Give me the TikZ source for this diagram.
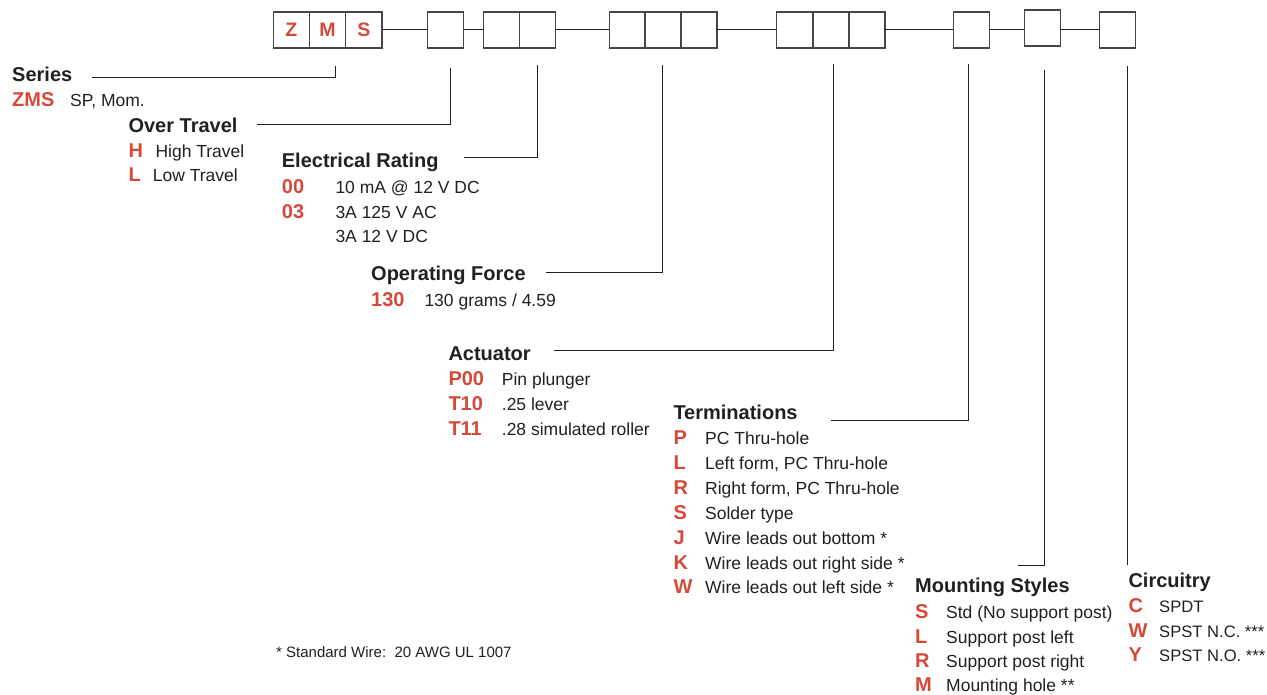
\documentclass[tikz,border=0pt]{standalone}
\usepackage{fontspec}
\setmainfont{Liberation Sans}
\definecolor{codered}{RGB}{214,72,58}
\definecolor{ink}{RGB}{35,31,32}
\definecolor{boxline}{RGB}{70,70,70}
\begin{document}
\begin{tikzpicture}[x=1pt,y=-1pt,
  cell/.style={draw=boxline,line width=1.4pt,minimum width=36.2pt,minimum height=35.8pt,inner sep=0,outer sep=0,anchor=north west,text=codered,font=\fontsize{19.5}{22}\selectfont\bfseries},
  lead/.style={draw=ink,line width=1pt},
  hd/.style={anchor=base west,inner sep=0,font=\fontsize{20}{24}\selectfont\bfseries,text=ink},
  cd/.style={anchor=base west,inner sep=0,font=\fontsize{20}{24}\selectfont\bfseries,text=codered},
  tx/.style={anchor=base west,inner sep=0,font=\fontsize{17.5}{21}\selectfont,text=ink},
  txs/.style={anchor=base west,inner sep=0,font=\fontsize{16.6}{20}\selectfont,text=ink},
  fn/.style={anchor=base west,inner sep=0,font=\fontsize{15}{18}\selectfont,text=ink},
]
\useasboundingbox (0,0) rectangle (1267,694);
% boxes
\node[cell] (z1) at (273.3,12) {Z};
\node[cell] (z2) at (309.5,12) {M};
\node[cell] (z3) at (345.7,12) {S};
\node[cell] (b2) at (427.5,12) {};
\node[cell] (e1) at (483.3,12) {};
\node[cell] (e2) at (519.5,12) {};
\node[cell] (f1) at (609.3,12) {};
\node[cell] (f2) at (645.1,12) {};
\node[cell] (f3) at (680.9,12) {};
\node[cell] (a1) at (776.7,12) {};
\node[cell] (a2) at (812.8,12) {};
\node[cell] (a3) at (848.9,12) {};
\node[cell] (t1) at (953.3,12) {};
\node[cell] (m1) at (1024.3,10) {};
\node[cell] (c1) at (1099.3,12) {};
% chain links
\draw[lead] (z3.east) -- (b2.west);
\draw[lead] (b2.east) -- (e1.west);
\draw[lead] (e2.east) -- (f1.west);
\draw[lead] (f3.east) -- (a1.west);
\draw[lead] (a3.east) -- (t1.west);
\draw[lead] (t1.east) -- (t1.east -| m1.west);
\draw[lead] (t1.east -| m1.east) -- (c1.west);
% leader coordinates
\coordinate (sA) at (92,77.7);    \coordinate (sB) at (335.5,65.5);
\coordinate (oA) at (256.7,124);  \coordinate (oB) at (450,68);
\coordinate (eA) at (464.3,157.7);\coordinate (eB) at (537.7,65);
\coordinate (pA) at (546,272.3);  \coordinate (pB) at (662.7,65);
\coordinate (aA) at (554,350.7);  \coordinate (aB) at (833.7,64);
\coordinate (tA) at (831,420);    \coordinate (tB) at (968,64);
\coordinate (mA) at (1017.6,565); \coordinate (mB) at (1044,70);
\coordinate (cA) at (1127,565);   \coordinate (cB) at (1127,66);
\draw[lead] (sA) -| (sB);
\draw[lead] (oA) -| (oB);
\draw[lead] (eA) -| (eB);
\draw[lead] (pA) -| (pB);
\draw[lead] (aA) -| (aB);
\draw[lead] (tA) -| (tB);
\draw[lead] (mA) -| (mB);
\draw[lead] (cA) -- (cB);
% Series
\node[hd] (hS) at (12,81.7) {Series};
\node[cd] (sc1) at (12,106.7) {ZMS};
\node[tx] (st1) at (70,106.7) {SP, Mom.};
% Over Travel
\node[hd] (hO) at (128.3,132.3) {Over Travel};
\node[cd] (oc1) at (128.3,157.3) {H};
\node[tx] (ot1) at (155.3,157.3) {High Travel};
\node[cd] (oc2) at (128.3,181.7) {L};
\node[tx] (ot2) at (152.7,181.7) {Low Travel};
% Electrical Rating
\node[hd] (hE) at (281.7,167.3) {Electrical Rating};
\node[cd] (ec1) at (281.7,193.3) {00};
\node[tx] (et1) at (335.3,193.3) {10 mA @ 12 V DC};
\node[cd] (ec2) at (281.7,218.3) {03};
\node[tx] (et2) at (335.3,218.3) {3A 125 V AC};
\node[tx] (et3) at (335.3,242.7) {3A 12 V DC};
% Operating Force
\node[hd] (hF) at (371,280.7) {Operating Force};
\node[cd] (fc1) at (371,306) {130};
\node[tx] (ft1) at (424.3,306) {130 grams / 4.59};
% Actuator
\node[hd] (hA) at (448.3,360) {Actuator};
\node[cd] (ac1) at (448.3,385) {P00};
\node[tx] (at1) at (501.7,385) {Pin plunger};
\node[cd] (ac2) at (448.3,410) {T10};
\node[tx] (at2) at (501.7,410) {.25 lever};
\node[cd] (ac3) at (448.3,435) {T11};
\node[tx] (at3) at (501.7,435) {.28 simulated roller};
% Terminations
\node[hd] (hT) at (673.3,419.3) {Terminations};
\node[cd] (tc1) at (673.3,444) {P};
\node[tx] (tt1) at (705,444) {PC Thru-hole};
\node[cd] (tc2) at (673.3,469.2) {L};
\node[tx] (tt2) at (705,469.2) {Left form, PC Thru-hole};
\node[cd] (tc3) at (673.3,494.2) {R};
\node[tx] (tt3) at (705,494.2) {Right form, PC Thru-hole};
\node[cd] (tc4) at (673.3,519) {S};
\node[tx] (tt4) at (705,519) {Solder type};
\node[cd] (tc5) at (673.3,544) {J};
\node[tx] (tt5) at (705,544) {Wire leads out bottom *};
\node[cd] (tc6) at (673.3,569) {K};
\node[tx] (tt6) at (705,569) {Wire leads out right side *};
\node[cd] (tc7) at (673.3,593.5) {W};
\node[tx] (tt7) at (705,593.5) {Wire leads out left side *};
% Mounting Styles
\node[hd] (hM) at (915,592.3) {Mounting Styles};
\node[cd] (mc1) at (915,618.8) {S};
\node[tx] (mt1) at (946,618.8) {Std (No support post)};
\node[cd] (mc2) at (915,643) {L};
\node[tx] (mt2) at (946,643) {Support post left};
\node[cd] (mc3) at (915,667.2) {R};
\node[tx] (mt3) at (946,667.2) {Support post right};
\node[cd] (mc4) at (915,691.7) {M};
\node[tx] (mt4) at (946,691.7) {Mounting hole **};
% Circuitry
\node[hd] (hC) at (1128.3,587.3) {Circuitry};
\node[cd] (cc1) at (1128.3,612.8) {C};
\node[txs] (ct1) at (1159,612.8) {SPDT};
\node[cd] (cc2) at (1128.3,637.2) {W};
\node[txs] (ct2) at (1159,637.2) {SPST N.C. ***};
\node[cd] (cc3) at (1128.3,661.3) {Y};
\node[txs] (ct3) at (1159,661.3) {SPST N.O. ***};
% footnote
\node[fn] (note) at (276,657.3) {* Standard Wire:\ \ 20 AWG UL 1007};
\end{tikzpicture}
\end{document}
